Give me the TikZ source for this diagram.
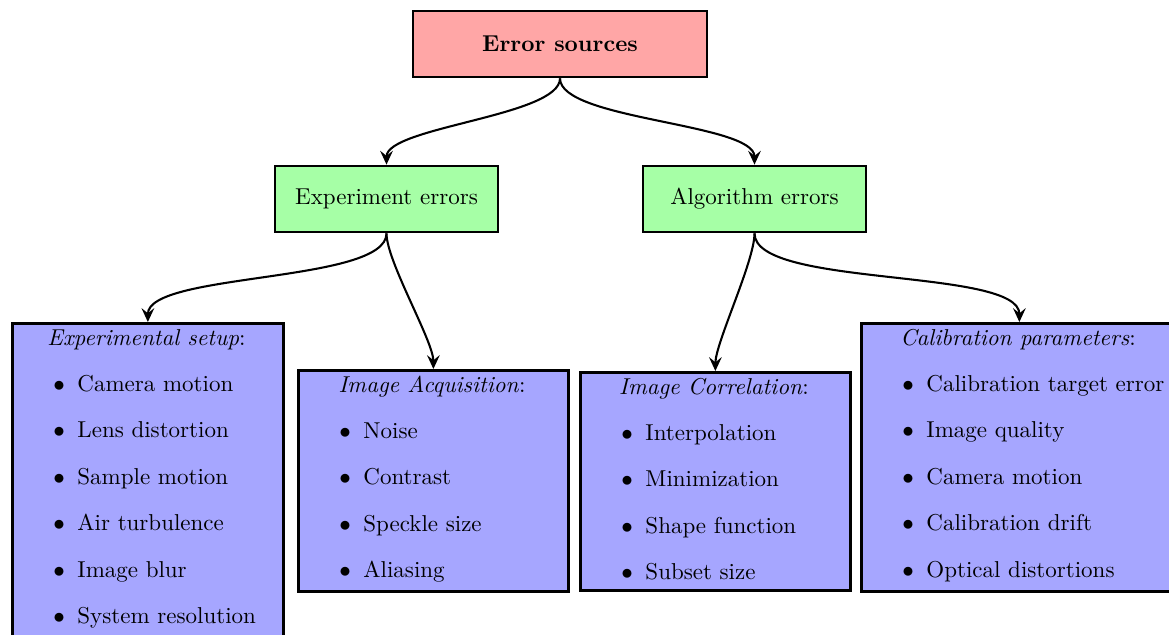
\documentclass[tikz,border=0pt]{standalone}
\usetikzlibrary{arrows.meta}
\begin{document}
\begin{tikzpicture}[x=0.435pt,y=-0.435pt,
  box/.style={draw=black,line width=1.2pt,rectangle,inner sep=0pt},
  topbox/.style={box,fill=red!35,minimum width=294*0.435pt,minimum height=66*0.435pt,font=\bfseries},
  midbox/.style={box,fill=green!35,minimum width=223*0.435pt,minimum height=66*0.435pt},
  listbox/.style={box,fill=blue!35,anchor=north west},
  ttl/.style={anchor=base,inner sep=0pt,font=\itshape},
  itm/.style={anchor=base west,inner sep=0pt},
  bul/.style={anchor=base,inner sep=0pt},
  conn/.style={line width=0.9pt,looseness=0.5,-{Stealth[length=6pt,width=5.5pt,inset=2.2pt]}}
]
\useasboundingbox (0,0) rectangle (1169,634);
\begin{scope}
\clip (0,0) rectangle (1169,634);
\node[topbox] (es) at (560,44) {Error sources};
\node[midbox] (ee) at (386.5,199) {Experiment errors};
\node[midbox] (ae) at (754.5,199) {Algorithm errors};

\node[listbox,minimum width=271*0.435pt,minimum height=314*0.435pt] (b1) at (11,322) {};
\node[listbox,minimum width=270*0.435pt,minimum height=221*0.435pt] (b2) at (297,369) {};
\node[listbox,minimum width=270*0.435pt,minimum height=218*0.435pt] (b3) at (579,371) {};
\node[listbox,minimum width=316*0.435pt,minimum height=268*0.435pt] (b4) at (860,322) {};

% box 1
\node[ttl] (t1) at (146.5,345) {Experimental setup\/\upshape:};
\foreach \t [count=\i] in {Camera motion,Lens distortion,Sample motion,Air turbulence,Image blur,System resolution}{
  \node[bul] (b1d\i) at (59,345+\i*46.4) {$\bullet$};
  \node[itm] (b1i\i) at (77,345+\i*46.4) {\t};
}
% box 2
\node[ttl] (t2) at (432,392) {Image Acquisition\/\upshape:};
\foreach \t [count=\i] in {Noise,Contrast,Speckle size,Aliasing}{
  \node[bul] (b2d\i) at (345,392+\i*46.4) {$\bullet$};
  \node[itm] (b2i\i) at (363,392+\i*46.4) {\t};
}
% box 3
\node[ttl] (t3) at (714,394) {Image Correlation\/\upshape:};
\foreach \t [count=\i] in {Interpolation,Minimization,Shape function,Subset size}{
  \node[bul] (b3d\i) at (627,394+\i*46.4) {$\bullet$};
  \node[itm] (b3i\i) at (645,394+\i*46.4) {\t};
}
% box 4
\node[ttl] (t4) at (1018,345) {Calibration parameters\/\upshape:};
\foreach \t [count=\i] in {Calibration target error,Image quality,Camera motion,Calibration drift,Optical distortions}{
  \node[bul] (b4d\i) at (908,345+\i*46.4) {$\bullet$};
  \node[itm] (b4i\i) at (926,345+\i*46.4) {\t};
}

\draw[conn] (es.south) to[out=-90,in=90] (ee.north);
\draw[conn] (es.south) to[out=-90,in=90] (ae.north);
\draw[conn] (ee.south) to[out=-90,in=90] (b1.north);
\draw[conn] (ee.south) to[out=-90,in=90] (b2.north);
\draw[conn] (ae.south) to[out=-90,in=90] (b3.north);
\draw[conn] (ae.south) to[out=-90,in=90] (b4.north);
\end{scope}
\end{tikzpicture}
\end{document}
